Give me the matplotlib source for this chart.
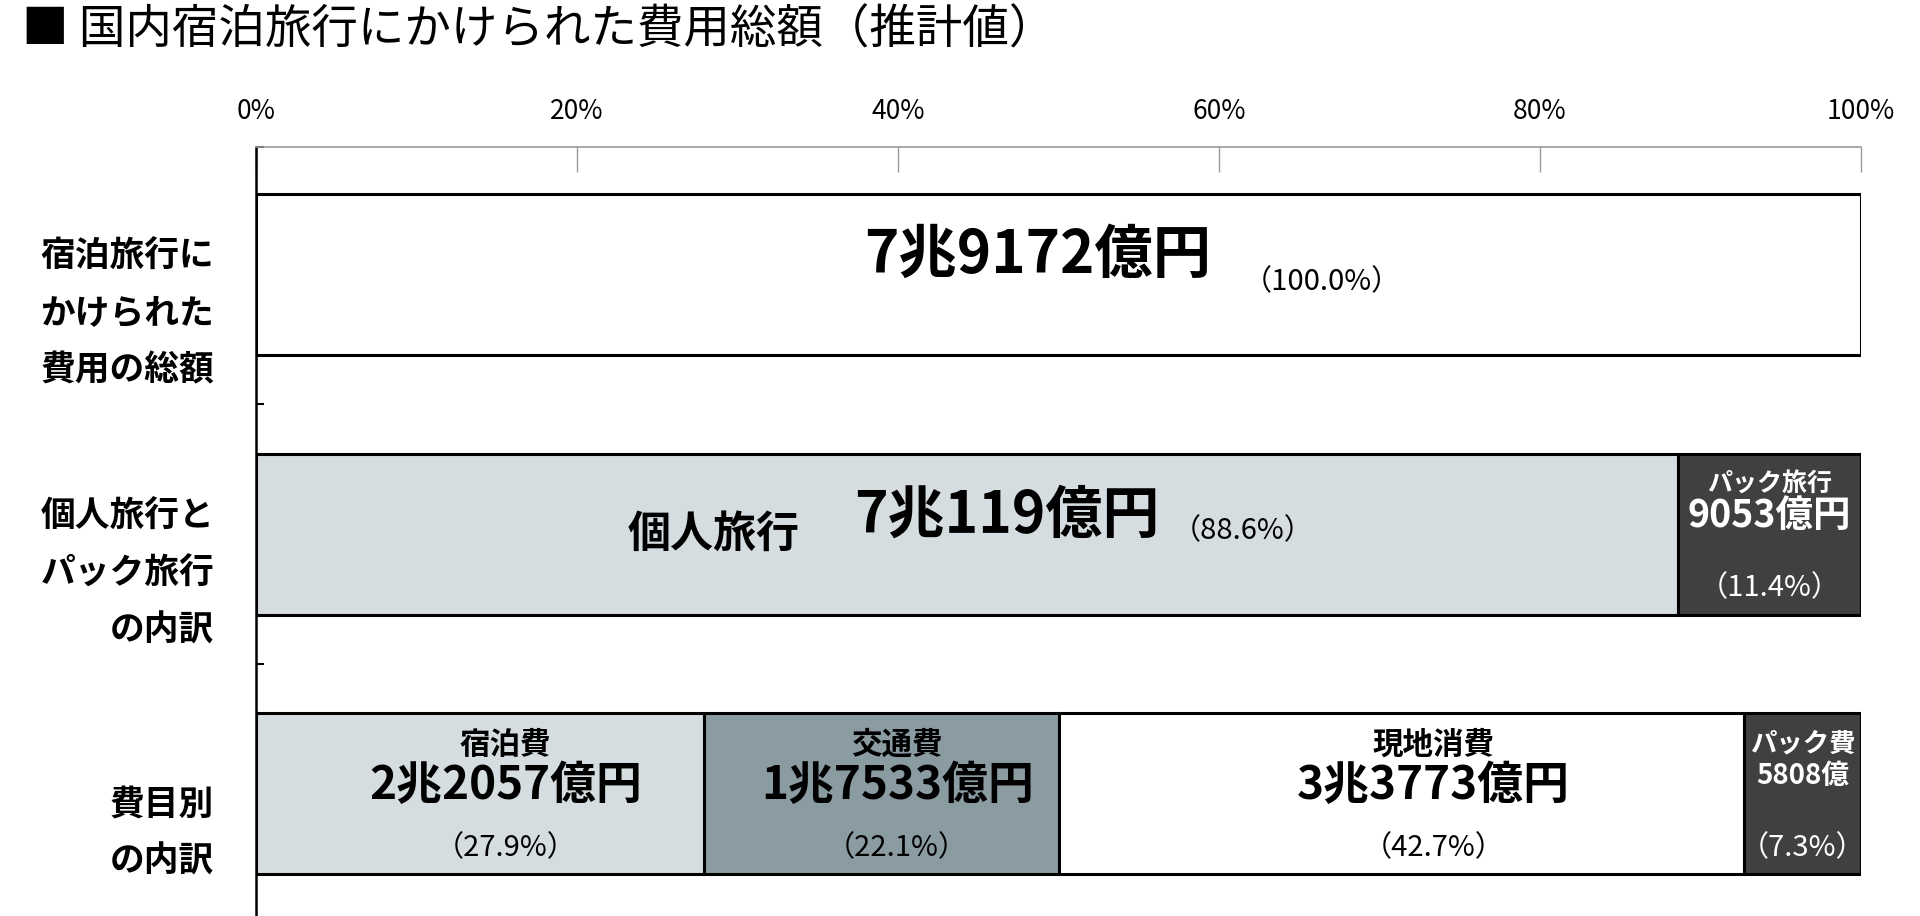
import numpy as np
import matplotlib
matplotlib.use('Agg')
import matplotlib.pyplot as plt
from matplotlib.ticker import FixedLocator
import matplotlib.transforms as mtransforms

plt.rcParams['font.family'] = ['Noto Sans CJK JP', 'DejaVu Sans']

# データ（億円 / 構成比 %）
row_labels = ['宿泊旅行に\nかけられた\n費用の総額', '個人旅行と\nパック旅行\nの内訳', '費目別\nの内訳']

total_values = ['7兆9172億円']
total_pcts = [100.0]

trip_names = ['個人旅行', 'パック旅行']
trip_values = ['7兆119億円', '9053億円']
trip_pcts = [88.6, 11.4]

cost_names = ['宿泊費', '交通費', '現地消費', 'パック費']
cost_values = ['2兆2057億円', '1兆7533億円', '3兆3773億円', '5808億']
cost_pcts = [27.9, 22.1, 42.7, 7.3]

x_ticks = [0, 20, 40, 60, 80, 100]
x_tick_labels = ['0%', '20%', '40%', '60%', '80%', '100%']

light = '#d5dde1'
mid = '#8a9ba2'
dark = '#404040'

fig = plt.figure(figsize=(19.2, 9.16), dpi=100)
ax = fig.add_axes([256 / 1920, 0, 1605 / 1920, 769 / 916])

bar_h = 0.62


def draw_row(y, pcts, colors):
    left = np.concatenate([[0], np.cumsum(pcts)[:-1]])
    ax.barh(y, pcts, left=left, height=bar_h, color=colors,
            edgecolor='black', linewidth=2.2, zorder=3)
    return left + np.array(pcts) / 2


# 行1: 総額
draw_row(0, total_pcts, ['white'])
ax.text(48.7, -0.07, total_values[0], ha='center', va='center',
        fontsize=42, fontweight='bold')
ax.text(66.4, 0.03, f'（{total_pcts[0]:.1f}%）', ha='center', va='center', fontsize=21)

# 行2: 個人旅行 / パック旅行
c2 = draw_row(1, trip_pcts, [light, dark])
ax.text(28.5, 1.0, trip_names[0], ha='center', va='center',
        fontsize=31, fontweight='bold')
ax.text(46.8, 0.93, trip_values[0], ha='center', va='center',
        fontsize=41, fontweight='bold')
ax.text(61.5, 0.99, f'（{trip_pcts[0]:.1f}%）', ha='center', va='center', fontsize=21)
ax.text(c2[1], 0.81, trip_names[1], ha='center', va='center',
        fontsize=18, fontweight='bold', color='white')
ax.text(c2[1], 0.93, trip_values[1], ha='center', va='center',
        fontsize=27, fontweight='bold', color='white')
ax.text(c2[1], 1.21, f'（{trip_pcts[1]:.1f}%）', ha='center', va='center',
        fontsize=21, color='white')

# 行3: 費目別
c3 = draw_row(2, cost_pcts, [light, mid, 'white', dark])
offsets = [1.6, 1.0, 2.0, 0.0]
for i, (name, val, pct) in enumerate(zip(cost_names, cost_values, cost_pcts)):
    col = 'white' if i == 3 else 'black'
    x = c3[i] + offsets[i]
    if i == 3:
        ax.text(x, 1.81, name, ha='center', va='center', fontsize=19,
                fontweight='bold', color=col)
        ax.text(x, 1.93, val, ha='center', va='center', fontsize=20,
                fontweight='bold', color=col)
    else:
        ax.text(x, 1.81, name, ha='center', va='center', fontsize=22,
                fontweight='bold', color=col)
        ax.text(x, 1.97, val, ha='center', va='center', fontsize=33,
                fontweight='bold', color=col)
    ax.text(x, 2.21, f'（{pct:.1f}%）', ha='center', va='center', fontsize=21, color=col)

# 軸
ax.set_xlim(0, 100)
ax.set_ylim(2.47, -0.49)
ax.xaxis.tick_top()
ax.set_xticks(x_ticks)
ax.set_xticklabels(x_tick_labels, fontsize=19)
ax.tick_params(axis='x', direction='in', length=18, width=1, color='#999999', pad=16)
ax.set_yticks([])
ax.yaxis.set_minor_locator(FixedLocator([-0.49, 0.5, 1.5]))
ax.tick_params(axis='y', which='minor', direction='in', length=6, width=1.5, color='black')
for s in ['right', 'bottom']:
    ax.spines[s].set_visible(False)
ax.spines['top'].set_color('#999999')
ax.spines['top'].set_linewidth(1.2)
ax.spines['left'].set_color('black')
ax.spines['left'].set_linewidth(1.8)

trans = mtransforms.blended_transform_factory(ax.transAxes, ax.transData)
for i, lab in enumerate(row_labels):
    ax.text(-0.026, i + 0.15, lab, transform=trans, ha='right', va='center',
            multialignment='right', fontsize=25, fontweight='bold', linespacing=1.78)

fig.text(22 / 1920, 1 - 30 / 916, '■ 国内宿泊旅行にかけられた費用総額（推計値）',
         ha='left', va='center', fontsize=33.5)

fig.savefig('out.png', dpi=100)
